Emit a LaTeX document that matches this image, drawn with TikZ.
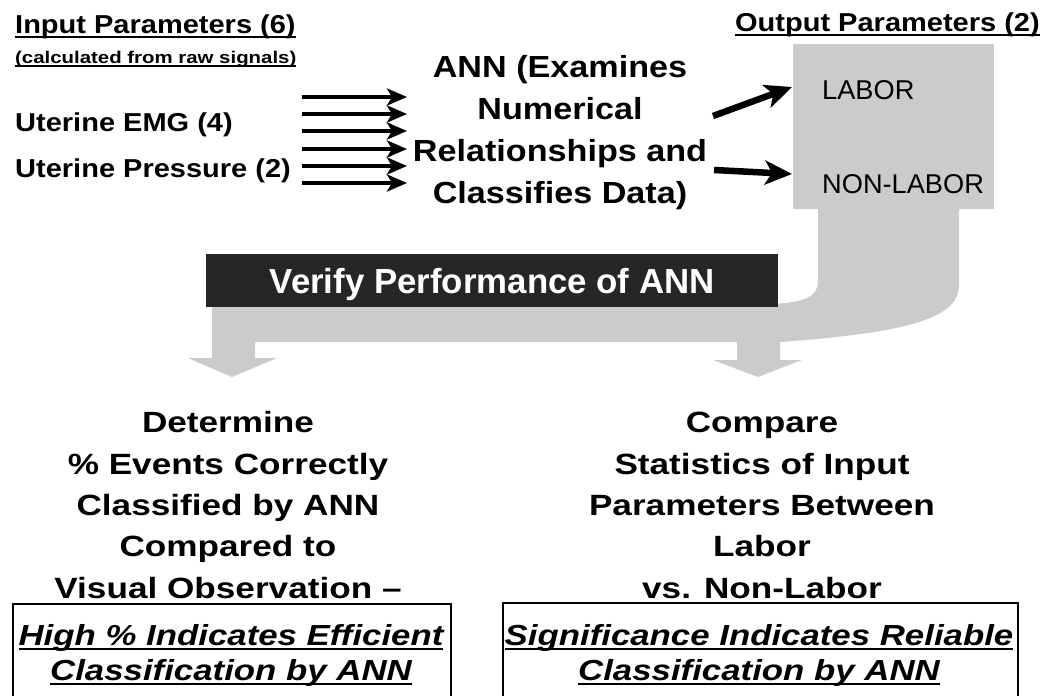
\documentclass[tikz,border=0pt]{standalone}
\usepackage{fontspec}
\setmainfont{Liberation Sans}[FakeStretch=1.2]
\newfontfamily\midfont{Liberation Sans}[FakeStretch=1.12]
\newfontfamily\barfont{Liberation Sans}
\usetikzlibrary{
        arrows.meta,
        positioning
    }
\definecolor{flowgray}{HTML}{CBCBCB}
\definecolor{barblack}{HTML}{262626}
% underline with a heavier bar
\newlength\ulgap
\setlength\ulgap{-5pt}
\newcommand\barunder[1]{\setbox0\hbox{#1}\rlap{\rule[\ulgap]{\wd0}{2.2pt}}\box0}
\tikzset{
    heading/.style={anchor=base west,inner sep=0pt,font=\midfont\bfseries\fontsize{25.9}{30}\selectfont},
    smallnote/.style={anchor=base west,inner sep=0pt,font=\bfseries\fontsize{17}{20}\selectfont},
    outlabel/.style={anchor=base west,inner sep=0pt,font=\barfont\fontsize{27.2}{30}\selectfont},
    inarrow/.style={line width=4.5pt,-{Stealth[length=20pt,width=17pt,inset=5pt]}},
    outarrow/.style={line width=6.5pt,-{Stealth[length=27pt,width=24pt,inset=7pt]}},
    result/.style={align=center,anchor=base,inner sep=0pt,font=\bfseries\fontsize{29.3}{41.3}\selectfont},
    verdict/.style={align=center,anchor=base,inner sep=0pt,font=\bfseries\itshape\fontsize{29}{35}\selectfont},
    frame/.style={line width=1.3pt}
}

\begin{document}
\begin{tikzpicture}[x=1pt,y=-1pt]
    \useasboundingbox (0,0) rectangle (1045,696);

    % grey band from the outputs round to the two checks
    \fill[flowgray] (212,300) -- (212,358) -- (188,358) -- (232,377) -- (277,358)
        -- (255,358) -- (255,342) -- (737,342) -- (737,360) -- (713,360)
        -- (758,377) -- (802,360) -- (780,360) -- (780,342)
        .. controls (920,332) and (959,315) .. (959,285) -- (959,205) -- (818,205)
        -- (818,282) .. controls (818,298) and (800,303) .. (770,304) -- cycle;
    \node[fill=flowgray,minimum width=201pt,minimum height=165pt,inner sep=0pt,
        anchor=north west] (outbox) at (793,44) {};
    \node[fill=barblack,text=white,minimum width=572pt,minimum height=53pt,inner sep=0pt,
        text depth=0pt,anchor=north west,font=\barfont\bfseries\fontsize{34.8}{40}\selectfont]
        (verify) at (206,254) {Verify Performance of ANN};

    % inputs
    \node[heading] (inhead) at (15,33) {\barunder{Input Parameters (6)}};
    \node[smallnote] (insub) at (15,63) {\setlength\ulgap{-4.5pt}\barunder{(calculated from raw signals)}};
    \node[heading] (emg) at (15,131) {Uterine EMG (4)};
    \node[heading] (pres) at (15,177) {Uterine Pressure (2)};
    \foreach \i/\y in {1/97,2/114,3/131,4/149,5/166,6/183} {
        \coordinate (s\i) at (302,\y);
        \coordinate (t\i) at (407,\y);
        \draw[inarrow] (s\i) -- (t\i);
    }

    % network (base = last line)
    \node[result,font=\midfont\bfseries\fontsize{30.5}{42}\selectfont] (ann) at (560,203)
        {ANN (Examines\\Numerical\\Relationships and\\Classifies Data)};

    % outputs
    \node[heading,anchor=base east] (outhead) at (1040,31) {\barunder{Output Parameters (2)}};
    \node[outlabel] (labor) at (822,99) {LABOR};
    \node[outlabel] (nonlabor) at (822,193) {NON-LABOR};
    \coordinate (o1) at (713,116);
    \coordinate (p1) at (792,87);
    \coordinate (o2) at (714,170);
    \coordinate (p2) at (792,174);
    \draw[outarrow] (o1) -- (p1);
    \draw[outarrow] (o2) -- (p2);

    % the two checks
    \node[result] (percent) at (228,598)
        {Determine\\\% Events Correctly\\Classified by ANN\\Compared to\\Visual Observation --};
    \node[result] (stats) at (762,598)
        {Compare\\Statistics of Input\\Parameters Between\\Labor\\vs. Non-Labor};
    \draw[frame] (13,696) |- (451,604) -- (451,696);
    \draw[frame] (503,696) |- (1018,603) -- (1018,696);
    \node[verdict] (eff) at (231,680)
        {\barunder{High \% Indicates Efficient}\\\barunder{Classification by ANN}};
    \node[verdict] (rel) at (759,680)
        {\barunder{Significance Indicates Reliable}\\\barunder{Classification by ANN}};
\end{tikzpicture}
\end{document}
